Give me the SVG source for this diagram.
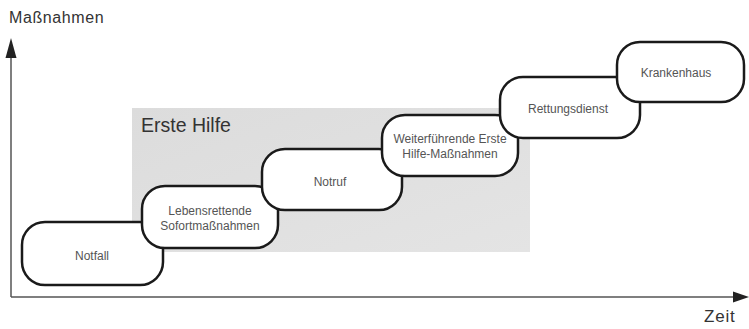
<svg xmlns="http://www.w3.org/2000/svg" width="749" height="329" viewBox="0 0 749 329">
<style>
.box{fill:#fff;stroke:#1a1a1a;stroke-width:2.5}
.t{font-family:"Liberation Sans",Arial,sans-serif;font-size:12px;fill:#555;text-anchor:middle}
.ax{stroke:#555;stroke-width:1.5;fill:none}
.lbl{font-family:"Liberation Sans",Arial,sans-serif;fill:#333}
</style>
<defs>
<linearGradient id="g" x1="0" y1="0" x2="1" y2="1">
<stop offset="0" stop-color="#dcdcdc"/>
<stop offset="1" stop-color="#e4e4e4"/>
</linearGradient>
</defs>
<rect width="749" height="329" fill="#fff"/>
<g id="erste-hilfe">
<rect x="132" y="108" width="398" height="144" fill="url(#g)"/>
<text class="lbl" x="141" y="132" font-size="19.5" fill="#444">Erste Hilfe</text>
</g>
<g id="axes">
<line class="ax" x1="11" y1="56" x2="11" y2="297"/>
<polygon points="11,38 5.5,58 16.5,58" fill="#222"/>
<line class="ax" x1="11" y1="297" x2="734" y2="297"/>
<polygon points="749,297 733,291.5 733,302.5" fill="#222"/>
<text class="lbl" x="9" y="23" font-size="16" letter-spacing="0.6">Maßnahmen</text>
<text class="lbl" x="704" y="322" font-size="17" letter-spacing="0.8">Zeit</text>
</g>
<g id="connectors"></g>
<g id="notfall">
<rect class="box" x="22" y="222" width="141" height="63" rx="23"/>
<text class="t" x="92" y="260">Notfall</text>
</g>
<g id="lebensrettende">
<rect class="box" x="142" y="186" width="136" height="62" rx="23"/>
<text class="t" x="210" y="215">Lebensrettende</text>
<text class="t" x="210" y="230">Sofortmaßnahmen</text>
</g>
<g id="notruf">
<rect class="box" x="262" y="149" width="140" height="61" rx="23"/>
<text class="t" x="330" y="186">Notruf</text>
</g>
<g id="weiterfuehrende">
<rect class="box" x="382" y="115" width="136" height="61" rx="23"/>
<text class="t" x="450" y="143">Weiterführende Erste</text>
<text class="t" x="450" y="158">Hilfe-Maßnahmen</text>
</g>
<g id="rettungsdienst">
<rect class="box" x="500" y="77" width="140" height="61" rx="23"/>
<text class="t" x="568" y="113">Rettungsdienst</text>
</g>
<g id="krankenhaus">
<rect class="box" x="617" y="42" width="127" height="60" rx="23"/>
<text class="t" x="676" y="77" font-size="11">Krankenhaus</text>
</g>
</svg>
